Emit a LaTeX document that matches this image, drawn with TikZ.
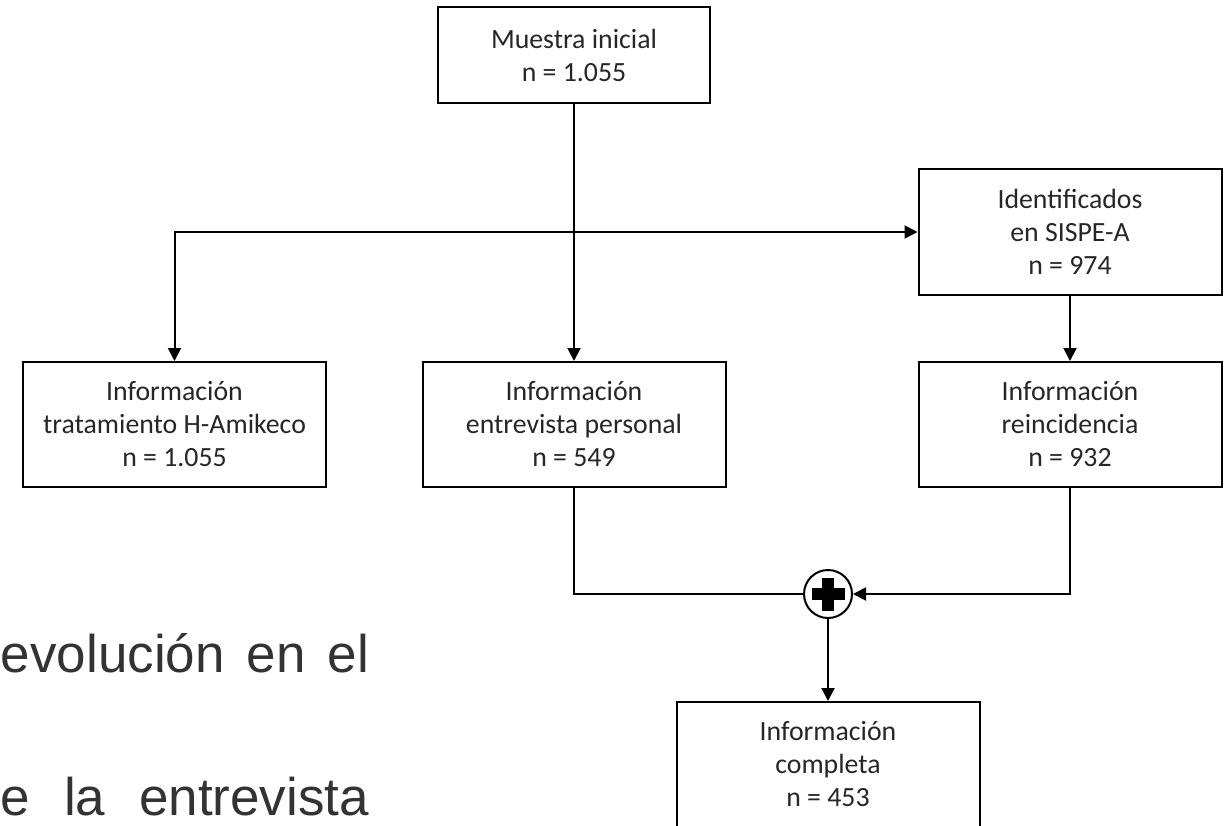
\documentclass[tikz,border=0pt]{standalone}
\usepackage{fontspec}
\setmainfont{Carlito}
\newfontfamily\bodyfont{Liberation Sans}
\usetikzlibrary{arrows.meta,positioning}

\begin{document}
\begin{tikzpicture}[x=0.5pt,y=-0.5pt,line width=1pt,
    box/.style={draw,line width=1pt,shape=rectangle,minimum width=151.5pt,minimum height=62.5pt,
      align=center,inner sep=0pt,font=\fontsize{13.9}{16.5}\selectfont,text=black!85},
    link/.style={-{Triangle[length=6.5pt,width=6.5pt]}}]
  %\draw[step=100,gray,very thin] (0,0) grid (1230,825);
  \useasboundingbox (0,0) rectangle (1230,825);
  \node[box,minimum width=136pt,minimum height=48pt] (Inicial) at (574,55) {Muestra inicial\\n = 1.055};
  \node[box,minimum height=63pt] (Ident) at (1070,232) {Identificados\\en SISPE-A\\n = 974};
  \node[box] (Trat) at (174.5,424.5) {Información\\tratamiento H-Amikeco\\n = 1.055};
  \node[box] (Entrev) at (574,424.5) {Información\\entrevista personal\\n = 549};
  \node[box] (Reinc) at (1070,424.5) {Información\\reincidencia\\n = 932};
  \node[draw,circle,line width=1pt,minimum size=24pt,inner sep=0pt] (Plus) at (828,594) {};
  \node[box] (Compl) at (828,764.5) {Información\\completa\\n = 453};
  \coordinate (Split) at (Inicial.south |- Ident.west);

  % cruz dentro del circulo
  \fill ([shift={(-16.5,-6)}]Plus.center) rectangle ++(33,12);
  \fill ([shift={(-6,-16.5)}]Plus.center) rectangle ++(12,33);

  \draw[link] (Inicial) -- (Entrev);
  \draw[link] (Split) -| (Trat);
  \draw[link] (Split) -- (Ident);
  \draw[link] (Ident) -- (Reinc);
  \draw (Entrev) |- (Plus);
  \draw[link] (Reinc) |- (Plus);
  \draw[link] (Plus) -- (Compl);

  % texto del documento, cortado
  \node[anchor=base west,inner sep=0pt,font=\bodyfont\fontsize{26.5}{30}\selectfont,text=black!80] (Txta) at (0,672) {\makebox[184pt][s]{evolución en el}};
  \node[anchor=base west,inner sep=0pt,font=\bodyfont\fontsize{26.5}{30}\selectfont,text=black!80] (Txtb) at (0,815) {\makebox[184pt][s]{e la entrevista}};
\end{tikzpicture}
\end{document}
